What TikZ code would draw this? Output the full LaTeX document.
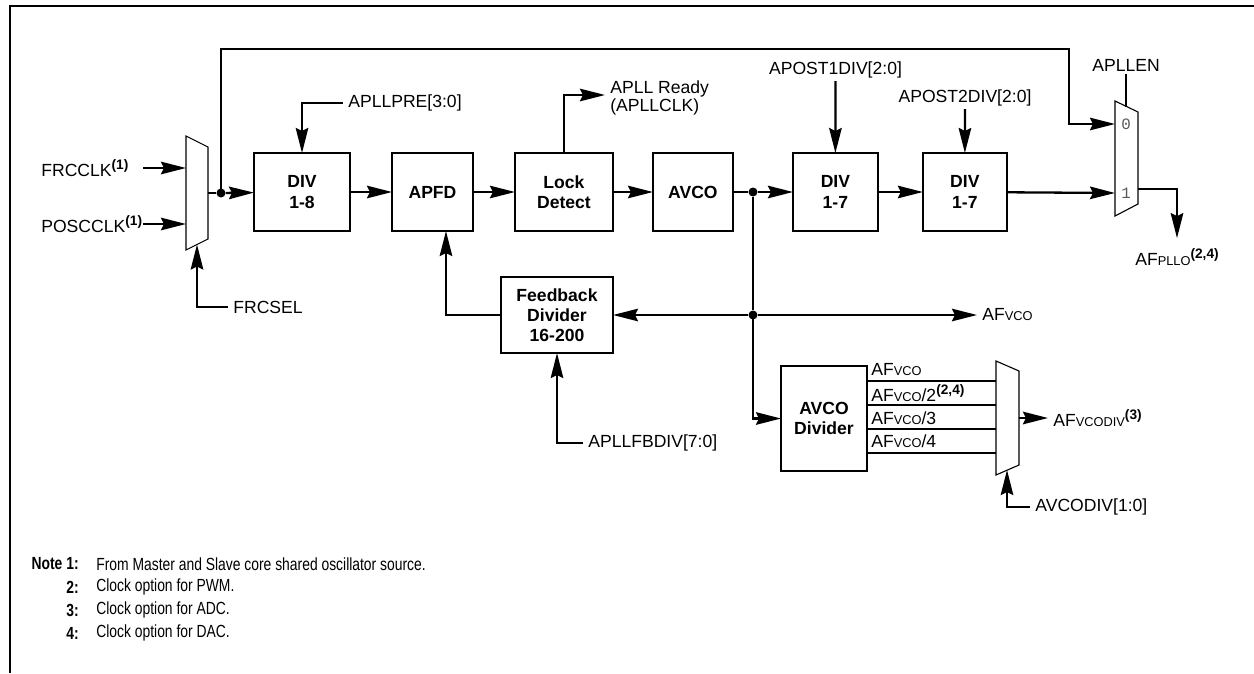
\documentclass[tikz,border=0pt]{standalone}
\usepackage{fontspec}
\setmainfont{Liberation Sans}
\newfontfamily\notefont[FakeStretch=0.79]{Liberation Sans}
\newfontfamily\pinfont{Liberation Mono}
\usepackage{tikz}
\usetikzlibrary{arrows.meta, positioning}
\newcommand{\lowcaps}[1]{{\fontsize{7.3}{8}\selectfont #1}}
\newcommand{\fn}[1]{\raisebox{0.75ex}{\fontsize{7.8}{8}\selectfont\bfseries(#1)}}
\tikzset{
  frame/.style={line width=0.046cm},
  blk/.style={rectangle, draw, line width=0.046cm, outer sep=0,
              minimum height=1.56cm, align=center,
              font=\bfseries\fontsize{10}{11.5}\selectfont},
  lbl/.style={inner xsep=0.1cm, inner ysep=0.05cm,
              font=\fontsize{10}{10.5}\selectfont},
  wire/.style={line width=0.046cm},
  arr/.style={-{Stealth[length=0.5cm, width=0.25cm, inset=0.06cm]},
              line width=0.046cm},
  muxbody/.style={line width=0.022cm},
  pin/.style={inner sep=0, text=black!65,
              font=\pinfont\fontsize{9}{9}\selectfont},
  dot/.style={circle, fill, inner sep=0, minimum size=0.18cm},
  notenum/.style={inner sep=0, anchor=east,
                  font=\notefont\bfseries\fontsize{10}{11}\selectfont},
  notetxt/.style={inner sep=0, anchor=west,
                  font=\notefont\fontsize{10}{11}\selectfont}
}
\begin{document}
\begin{tikzpicture}[x=0.02cm, y=-0.02cm]
  \useasboundingbox (0,0) rectangle (1254,673);
  \draw[frame] (10,673) -- (10,6) -- (1254,6);

  % Main row
  \node[blk, minimum width=1.92cm] (div8) at (302,192) {DIV\\1-8};
  \node[blk, minimum width=1.62cm, right=0.84cm of div8] (apfd) {APFD};
  \node[blk, minimum width=1.96cm, right=0.84cm of apfd] (lock) {Lock\\Detect};
  \node[blk, minimum width=1.6cm,  right=0.8cm of lock]  (avco) {AVCO};
  \node[blk, minimum width=1.7cm,  right=1.2cm of avco]  (div7a) {DIV\\1-7};
  \node[blk, minimum width=1.68cm, right=0.9cm of div7a] (div7b) {DIV\\1-7};

  % Lower blocks
  \node[blk, minimum width=2.24cm, minimum height=1.52cm] (fbdiv) at (557,315)
       {Feedback\\Divider\\16-200};
  \node[blk, minimum width=1.72cm, minimum height=2.1cm] (avcodiv) at (824,418.5)
       {AVCO\\Divider};

  % Muxes
  \draw[muxbody] (186,136) -- (208,147) -- (208,239) -- (186,250) -- cycle;
  \draw[muxbody] (1115,101) -- (1138,112) -- (1138,204) -- (1115,216) -- cycle;
  \draw[muxbody] (996,361) -- (1019,371) -- (1019,465) -- (996,475) -- cycle;
  \node[pin] (pin0) at (1126,124) {0};
  \node[pin] (pin1) at (1126,193) {1};

  \coordinate (frcin) at (143,168);  \coordinate (m1in0) at (186,168);
  \coordinate (posin) at (143,224);  \coordinate (m1in1) at (186,224);
  \coordinate (m1out) at (208,193);  \coordinate (m1sel) at (197,244.5);
  \coordinate (m2in0) at (1115,124); \coordinate (m2in1) at (1115,193);
  \coordinate (m2out) at (1138,189); \coordinate (m2sel) at (1126,106.5);
  \coordinate (m3in0) at (996,381);  \coordinate (m3in1) at (996,405);
  \coordinate (m3in2) at (996,429);  \coordinate (m3in3) at (996,453);
  \coordinate (m3out) at (1019,418); \coordinate (m3sel) at (1007,470);

  % Dots
  \node[dot] (d1) at (221,193) {};
  \node[dot] (d2) at (753,192) {};
  \node[dot] (d3) at (753,315) {};

  % Labels
  \node[lbl, inner sep=0, anchor=west] (frcclk) at (41,168) {FRCCLK\fn{1}};
  \node[lbl, inner sep=0, anchor=west] (poscclk) at (41,224) {POSCCLK\fn{1}};
  \node[lbl, anchor=west] (frcsel) at (228,307) {FRCSEL};
  \node[lbl, anchor=west] (apllpre) at (343,103) {APLLPRE[3:0]};
  \node[lbl, anchor=west, align=left, font=\fontsize{10}{9}\selectfont]
       (ready) at (605,98) {APLL Ready\\(APLLCLK)};
  \node[lbl] (apost1) at (835.5,70) {APOST1DIV[2:0]};
  \node[lbl] (apost2) at (965,98) {APOST2DIV[2:0]};
  \node[lbl] (apllen) at (1126,65) {APLLEN};
  \node[lbl, inner ysep=0.2cm] (afpllo) at (1177,257) {AF\lowcaps{PLLO}\fn{2,4}};
  \node[lbl, anchor=west] (afvco) at (977,315) {AF\lowcaps{VCO}};
  \node[lbl, anchor=west] (apllfbdiv) at (583,443) {APLLFBDIV[7:0]};
  \node[lbl, anchor=west] (afvcodiv) at (1048,418) {AF\lowcaps{VCODIV}\fn{3}};
  \node[lbl, anchor=west] (avcodivsel) at (1030,507) {AVCODIV[1:0]};
  \node[lbl, anchor=west, inner xsep=0.08cm] (o0) at (867,370) {AF\lowcaps{VCO}};
  \node[lbl, anchor=west, inner xsep=0.08cm] (o1) at (867,393) {AF\lowcaps{VCO}/2\fn{2,4}};
  \node[lbl, anchor=west, inner xsep=0.08cm] (o2) at (867,418) {AF\lowcaps{VCO}/3};
  \node[lbl, anchor=west, inner xsep=0.08cm] (o3) at (867,441) {AF\lowcaps{VCO}/4};

  % Connectors
  \draw[arr] (frcin) -- (m1in0);
  \draw[arr] (posin) -- (m1in1);
  \draw[arr] (frcsel.west) -| (m1sel);
  \draw[wire] (m1out) -- (d1);
  \draw[arr] (d1) -- (div8);
  \draw[arr] (d1.center) |- (1069,49) |- (m2in0);
  \draw[arr] (apllpre.west) -| (div8.north);
  \draw[arr] (div8) -- (apfd);
  \draw[arr] (apfd) -- (lock);
  \draw[arr] (lock.north) |- ([yshift=0.06cm]ready.west);
  \draw[arr] (lock) -- (avco);
  \draw[wire] (avco) -- (d2);
  \draw[arr] (d2) -- (div7a);
  \draw[arr] (apost1.south) -- (div7a.north);
  \draw[arr] (div7a) -- (div7b);
  \draw[arr] (apost2.south) -- (div7b.north);
  \draw[arr] (div7b) -- (m2in1);
  \draw[wire] (apllen.south) -- (m2sel);
  \draw[arr] (m2out) -| (afpllo.north);

  % Feedback and dividers
  \draw[wire] (d2) -- (d3);
  \draw[arr] (d3) -- (fbdiv);
  \draw[arr] (d3) -- (afvco.west);
  \draw[arr] (fbdiv.west) -| ([xshift=0.27cm]apfd.south);
  \draw[arr] (apllfbdiv.west) -| (fbdiv.south);
  \draw[arr] (d3.center) |- (avcodiv.west);
  \draw[wire] (avcodiv.east |- m3in0) -- (m3in0);
  \draw[wire] (avcodiv.east |- m3in1) -- (m3in1);
  \draw[wire] (avcodiv.east |- m3in2) -- (m3in2);
  \draw[wire] (avcodiv.east |- m3in3) -- (m3in3);
  \draw[arr] (m3out) -- (afvcodiv.west);
  \draw[arr] (avcodivsel.west) -| (m3sel);

  % Notes
  \node[notenum] (n1) at (79,564) {Note 1:};
  \node[notetxt] (t1) at (96,564) {From Master and Slave core shared oscillator source.};
  \node[notenum] (n2) at (79,587) {2:};
  \node[notetxt] (t2) at (96,587) {Clock option for PWM.};
  \node[notenum] (n3) at (79,610) {3:};
  \node[notetxt] (t3) at (96,610) {Clock option for ADC.};
  \node[notenum] (n4) at (79,633) {4:};
  \node[notetxt] (t4) at (96,633) {Clock option for DAC.};
\end{tikzpicture}
\end{document}
